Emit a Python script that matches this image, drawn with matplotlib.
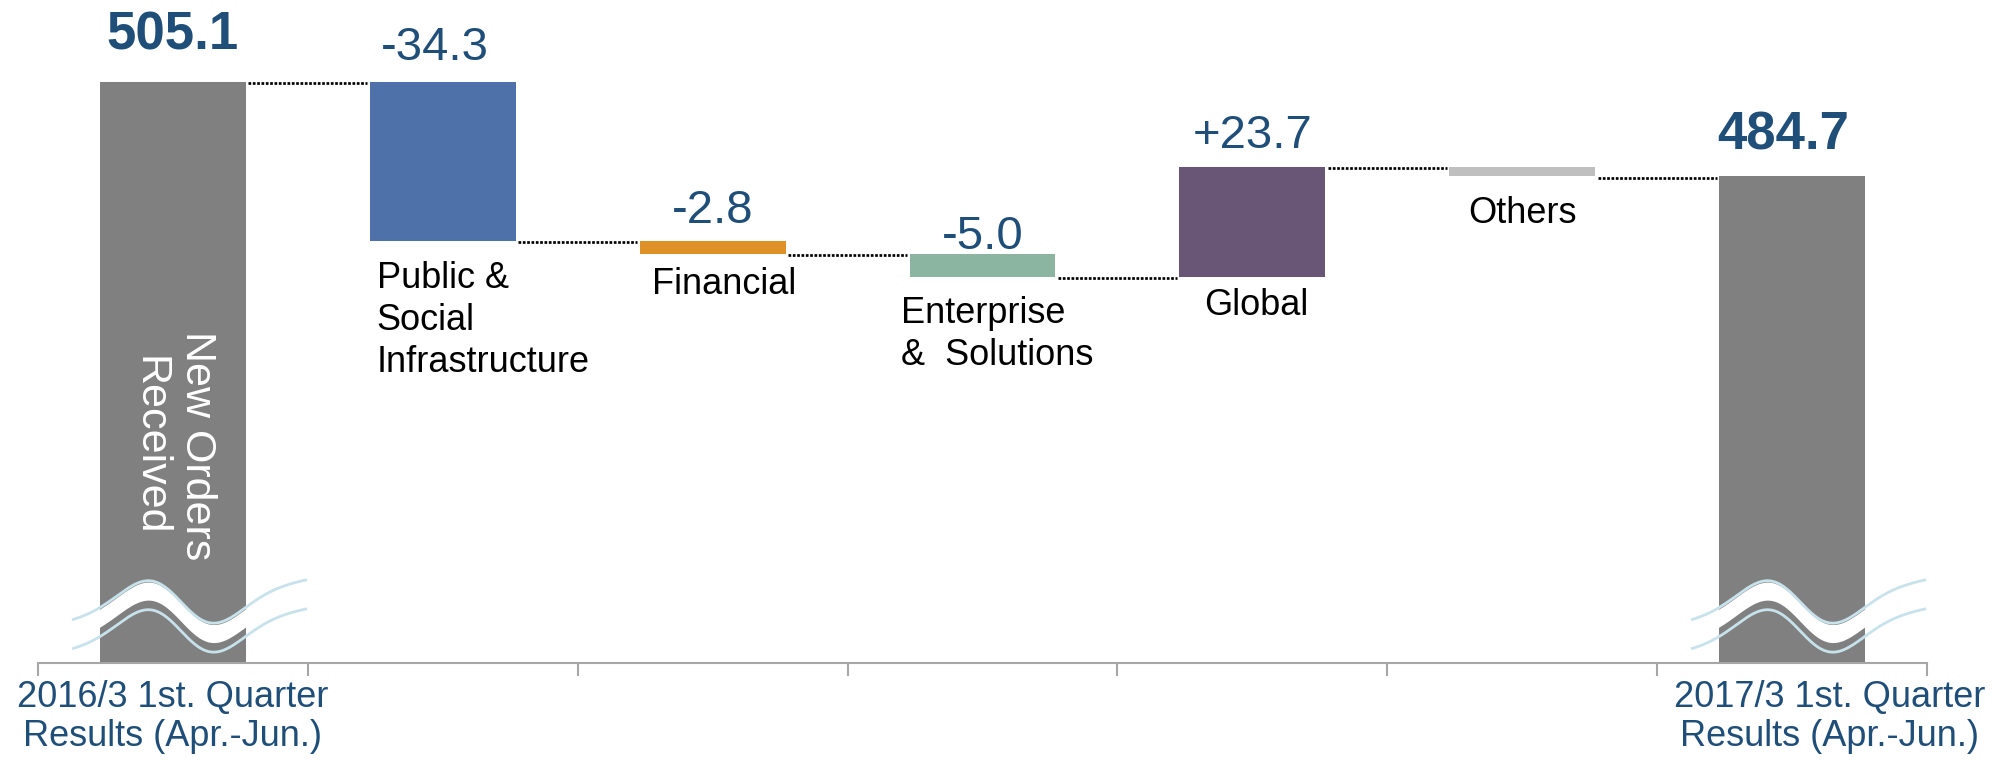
import numpy as np
import matplotlib.pyplot as plt

plt.rcParams['font.family'] = ['Liberation Sans', 'DejaVu Sans']

# values (billion yen)
start_total = 505.1
end_total = 484.7
segments = ['Public &\nSocial\nInfrastructure', 'Financial', 'Enterprise\n&  Solutions', 'Global', 'Others']
changes = [-34.3, -2.8, -5.0, 23.7, -2.0]
change_labels = ['-34.3', '-2.8', '-5.0', '+23.7', '']
period_labels = ['2016/3 1st. Quarter\nResults (Apr.-Jun.)', '2017/3 1st. Quarter\nResults (Apr.-Jun.)']

seg_colors = ['#4E71A9', '#DE9225', '#8BB5A0', '#695677', '#BFBFBF']
total_color = '#808080'
blue_txt = '#1F4E79'
break_color = '#C8E2EC'

fig = plt.figure(figsize=(20.08, 7.6), dpi=100)
ax = fig.add_axes([38 / 2008, 97 / 760, 1889 / 2008, 663 / 760])
y_floor, y_top = 379.5, 522.8
ax.set_xlim(-0.5, 6.5)
ax.set_ylim(y_floor, y_top)

bar_w = 0.54

# running totals
running = [start_total]
for c in changes:
    running.append(running[-1] + c)

# total bars
ax.bar([0, 6], [start_total - y_floor, end_total - y_floor], bottom=y_floor,
       width=bar_w, color=total_color, zorder=2)

# floating bars
for i, c in enumerate(changes):
    lo = min(running[i], running[i + 1])
    ax.bar(i + 1, abs(c), bottom=lo, width=bar_w, color=seg_colors[i], zorder=2)

# dotted connectors
for i in range(6):
    lvl = running[i] - 0.3
    ax.plot([i + bar_w / 2 + 0.01, i + 1 - bar_w / 2 - 0.01], [lvl, lvl], color='black',
            lw=1.95, ls=(0, (1, 0.6)), zorder=3)

# value labels for changes
lab_dy = [16, 12.5, 3.5, 13.5, 0]
lab_dx = [-6, 0, 0, 0, 0]
for i, txt in enumerate(change_labels):
    if not txt:
        continue
    top = max(running[i], running[i + 1])
    ax.annotate(txt, xy=(i + 1, top), xytext=(lab_dx[i], lab_dy[i]), textcoords='offset points',
                ha='center', va='baseline', fontsize=34, color=blue_txt)

# total labels
ax.annotate(f'{start_total:.1f}', xy=(0, start_total), xytext=(0, 23), textcoords='offset points',
            ha='center', va='baseline', fontsize=38, fontweight='bold', color=blue_txt)
ax.annotate(f'{end_total:.1f}', xy=(6, end_total), xytext=(-6, 19), textcoords='offset points',
            ha='center', va='baseline', fontsize=38, fontweight='bold', color=blue_txt)

# segment names under the bars
name_pos = [('left', -bar_w / 2, 5, -15), ('center', 0, 8, -10), ('left', -bar_w / 2, -6.5, -14),
            ('center', 0, 3, -8), ('center', 0, 0, -14)]
for i, name in enumerate(segments):
    ha, xoff, dx, dy = name_pos[i]
    bottom = min(running[i], running[i + 1])
    ax.annotate(name, xy=(i + 1 + xoff, bottom), xytext=(dx, dy), textcoords='offset points',
                ha=ha, va='top', fontsize=26, color='black', linespacing=1.25)

# rotated label inside first bar
ax.text(0, 426.5, 'New Orders\nReceived', rotation=-90, color='white', fontsize=31,
        ha='center', va='center', linespacing=1.25, zorder=4)


# break marks on the two total bars
def draw_break(xc):
    T = np.linspace(-0.404, 0.467, 300)
    s = T / 0.137
    y_up = 392.7 + 10.5 * T - 5.94 * s * np.exp(-(s ** 2 - 1) / 2)
    y_low = y_up - 6.27
    xs = xc + 0.03 + T
    ax.fill_between(xs, y_up - 4.2, y_up - 0.3, color='white', lw=0, zorder=3)
    ax.plot(xs, y_up, color=break_color, lw=2.0, zorder=4, solid_capstyle='butt')
    ax.plot(xs, y_low, color=break_color, lw=2.0, zorder=4, solid_capstyle='butt')


draw_break(0)
draw_break(6)

# period labels below axis
for xpos, txt in zip([0, 6.14], period_labels):
    ax.annotate(txt, xy=(xpos, 0), xycoords=('data', 'axes fraction'), xytext=(0, -12),
                textcoords='offset points', ha='center', va='top', fontsize=26,
                color=blue_txt, linespacing=1.15, annotation_clip=False)

# axis styling
for side in ['top', 'left', 'right']:
    ax.spines[side].set_visible(False)
ax.spines['bottom'].set_color('#A6A6A6')
ax.spines['bottom'].set_linewidth(1.5)
ax.set_xticks(np.arange(-0.5, 7, 1))
ax.set_xticklabels([])
ax.tick_params(axis='x', length=9.5, width=1.5, color='#A6A6A6', direction='out')
ax.set_yticks([])

fig.savefig('out.png', dpi=100)
